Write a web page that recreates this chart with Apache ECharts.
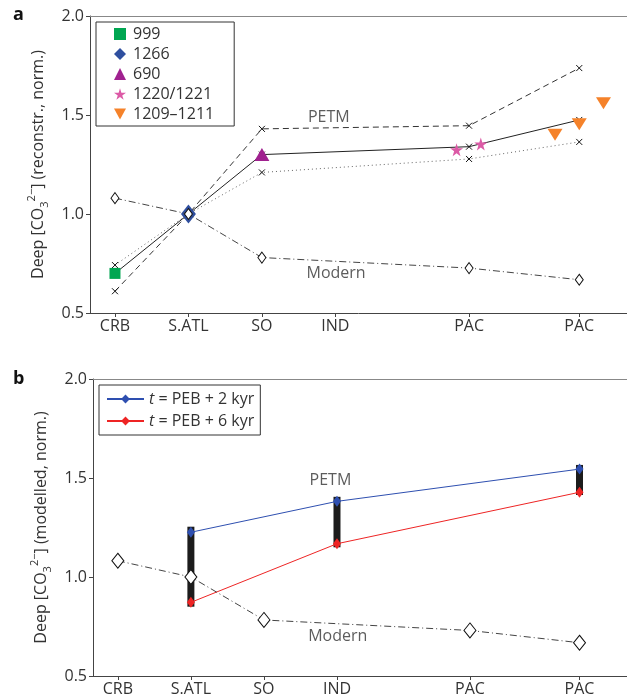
<!DOCTYPE html>
<html><head><meta charset="utf-8">
<script src="https://cdn.jsdelivr.net/npm/echarts@6/dist/echarts.min.js"></script>
<style>html,body{margin:0;padding:0;background:#fff}#c{width:627px;height:700px}</style>
</head><body><div id="c"></div>
<script>
// ---- shared axis data ----
const siteLabels = ['CRB', 'S.ATL', 'SO', 'IND', 'PAC', 'PAC'];
const sitePos = [0, 1, 2, 3, 4.82, 6.32];
const yTicks = [0.5, 1.0, 1.5, 2.0];

// ---- panel a (reconstructed) ----
const petmSolid  = [[0, 0.70], [1, 1.0], [2, 1.30], [4.82, 1.34], [6.32, 1.475]];
const petmDashed = [[0, 0.61], [1, 1.0], [2, 1.43], [4.82, 1.446], [6.32, 1.737]];
const petmDotted = [[0, 0.742], [1, 1.0], [2, 1.21], [4.82, 1.278], [6.32, 1.364]];
const modernA    = [[0, 1.08], [1, 1.0], [2, 0.78], [4.82, 0.727], [6.32, 0.668]];
const site999  = [[0, 0.70]];
const site1266 = [[1, 1.0]];
const site690  = [[2, 1.30]];
const site1220 = [[4.65, 1.325], [4.98, 1.354]];
const site1209 = [[5.99, 1.40], [6.32, 1.453], [6.65, 1.559]];

// ---- panel b (modelled) ----
const run2kyr = [[1, 1.226], [3, 1.382], [6.32, 1.545]];
const run6kyr = [[1, 0.872], [3, 1.168], [6.32, 1.428]];
const ensembleRange = [[1, 0.85, 1.254], [3, 1.15, 1.405], [6.32, 1.414, 1.566]];
const modernB = [[0, 1.082], [1, 1.0], [2, 0.783], [4.82, 0.73], [6.32, 0.668]];

// ---- annotations (data coords) ----
const annotations = [{ name: 'PETM', value: [2.91, 1.49] }, { name: 'Modern', value: [3.01, 0.70] }];

const FONT = 'Open Sans';
const TXT = '#333';
const CROSS = 'path://M0,0L10,10M10,0L0,10';
const STAR = 'path://M50,0L61,35L98,35L68,57L79,91L50,70L21,91L32,57L2,35L39,35Z';
const DOWN_TRI = 'path://M0,0L10,0L5,9Z';

function nearestLabel(v) {
  let best = 0;
  for (let i = 0; i < sitePos.length; i++) if (Math.abs(sitePos[i] - v) < Math.abs(sitePos[best] - v)) best = i;
  return siteLabels[best];
}

function xAxes(gi) {
  return [{
    type: 'value', gridIndex: gi, min: -0.34, max: 6.97,
    axisLine: { show: true, onZero: false, lineStyle: { color: '#444', width: 1 } },
    axisTick: { show: true, customValues: sitePos, length: 4, lineStyle: { color: '#444' } },
    axisLabel: { customValues: sitePos, formatter: nearestLabel, fontFamily: FONT, fontSize: 16, color: TXT, margin: 5 },
    splitLine: { show: false }
  }, {
    type: 'value', gridIndex: gi, position: 'top', min: -0.34, max: 6.97,
    axisLine: { show: true, onZero: false, lineStyle: { color: '#888', width: 1.2 } },
    axisTick: { show: false }, axisLabel: { show: false }, splitLine: { show: false }
  }];
}

function yAxis(gi, mid) {
  return {
    type: 'value', gridIndex: gi, min: 0.5, max: 2.0, interval: 0.5,
    axisLine: { show: true, onZero: false, lineStyle: { color: '#444', width: 1 } },
    axisTick: { show: true, length: 4, lineStyle: { color: '#444' } },
    axisLabel: { formatter: v => v.toFixed(1), fontFamily: FONT, fontSize: 16, color: TXT, margin: 6 },
    splitLine: { show: false },
    name: '{a|Deep [CO}{s|3}{p|2−}{a|] (' + mid + ', norm.)}',
    nameLocation: 'middle', nameRotate: 90, nameGap: 37,
    nameTextStyle: {
      rich: {
        a: { fontFamily: FONT, fontSize: 16, color: TXT, lineHeight: 24 },
        s: { fontFamily: FONT, fontSize: 11, color: TXT, lineHeight: 24, verticalAlign: 'bottom' },
        p: { fontFamily: FONT, fontSize: 11, color: TXT, lineHeight: 24, verticalAlign: 'top' }
      }
    }
  };
}

function annSeries(xi, yi) {
  return {
    type: 'scatter', xAxisIndex: xi, yAxisIndex: yi, data: annotations, symbolSize: 0, z: 20,
    label: { show: true, position: 'inside', formatter: p => p.name, fontFamily: FONT, fontSize: 16, color: TXT },
    silent: true
  };
}

const option = {
  animation: false,
  backgroundColor: '#fff',
  grid: [
    { left: 90, top: 16, height: 297, right: 0 },
    { left: 93, top: 379, height: 297, right: 0 }
  ],
  xAxis: [...xAxes(0), ...xAxes(1)],
  yAxis: [yAxis(0, 'reconstr.'), yAxis(1, 'modelled')],
  graphic: [
    { type: 'text', left: 13, top: 6, style: { text: 'a', font: 'bold 18px "Open Sans"', fill: '#111' } },
    { type: 'text', left: 13, top: 370, style: { text: 'b', font: 'bold 18px "Open Sans"', fill: '#111' } }
  ],
  legend: [{
    data: ['999', '1266', '690', '1220/1221', { name: '1209–1211', icon: DOWN_TRI }],
    orient: 'vertical', left: 96, top: 22,
    itemWidth: 12, itemHeight: 12, itemGap: 4,
    padding: [4, 20, 4, 18],
    borderColor: '#333', borderWidth: 1,
    itemStyle: { opacity: 1 },
    textStyle: { fontFamily: FONT, fontSize: 16, color: TXT, lineHeight: 16, padding: [0, 0, 0, 2] }
  }, {
    data: ['t = PEB + 2 kyr', 't = PEB + 6 kyr'],
    orient: 'vertical', left: 99, top: 385,
    itemWidth: 37, itemHeight: 11, itemGap: 6,
    padding: [6, 6, 6, 7],
    borderColor: '#333', borderWidth: 1,
    formatter: n => '{i|t}' + n.slice(1),
    textStyle: { fontFamily: FONT, fontSize: 16, color: TXT, lineHeight: 16,
      rich: { i: { fontFamily: FONT, fontSize: 16, fontStyle: 'italic', color: TXT } } }
  }],
  series: [
    // panel a lines
    { type: 'line', xAxisIndex: 0, yAxisIndex: 0, data: petmDashed, symbol: CROSS, symbolSize: 6,
      lineStyle: { color: '#333', width: 1, type: [6, 4] },
      itemStyle: { color: 'none', borderColor: '#111', borderWidth: 1 }, z: 2 },
    { type: 'line', xAxisIndex: 0, yAxisIndex: 0, data: petmDotted, symbol: CROSS, symbolSize: 6,
      lineStyle: { color: '#666', width: 1, type: [1, 3] },
      itemStyle: { color: 'none', borderColor: '#111', borderWidth: 1 }, z: 2 },
    { type: 'line', xAxisIndex: 0, yAxisIndex: 0, data: petmSolid, symbol: CROSS, symbolSize: 6,
      lineStyle: { color: '#222', width: 1 },
      itemStyle: { color: 'none', borderColor: '#111', borderWidth: 1 }, z: 2 },
    { type: 'line', xAxisIndex: 0, yAxisIndex: 0, data: modernA, symbol: 'diamond', symbolSize: [8, 11],
      lineStyle: { color: '#444', width: 1, type: [7, 3, 1, 3] },
      itemStyle: { color: '#fff', borderColor: '#111', borderWidth: 1 }, z: 6 },
    // panel a sites
    { name: '999', type: 'scatter', xAxisIndex: 0, yAxisIndex: 0, data: site999, symbol: 'rect', symbolSize: 11,
      itemStyle: { color: '#00a651', opacity: 1 }, z: 5 },
    { name: '1266', type: 'scatter', xAxisIndex: 0, yAxisIndex: 0, data: site1266, symbol: 'diamond', symbolSize: [15, 19],
      itemStyle: { color: '#2f4f9f', opacity: 1 }, z: 5 },
    { name: '690', type: 'scatter', xAxisIndex: 0, yAxisIndex: 0, data: site690, symbol: 'triangle', symbolSize: [15, 13],
      itemStyle: { color: '#a0218f', opacity: 1 }, z: 5 },
    { name: '1220/1221', type: 'scatter', xAxisIndex: 0, yAxisIndex: 0, data: site1220, symbol: STAR, symbolSize: 13,
      itemStyle: { color: '#dc5aa6', opacity: 1 }, z: 5 },
    { name: '1209–1211', type: 'scatter', xAxisIndex: 0, yAxisIndex: 0, data: site1209, symbol: DOWN_TRI,
      symbolSize: [15, 12], itemStyle: { color: '#f5822a', opacity: 1 }, z: 5 },
    annSeries(0, 0),
    // panel b
    { type: 'custom', xAxisIndex: 2, yAxisIndex: 1, data: ensembleRange, z: 1,
      renderItem: (params, api) => {
        const x = api.value(0);
        const lo = api.coord([x, api.value(1)]);
        const hi = api.coord([x, api.value(2)]);
        return { type: 'rect', shape: { x: lo[0] - 3.5, y: hi[1], width: 7, height: lo[1] - hi[1] }, style: { fill: '#1c1c1c' } };
      } },
    { type: 'line', xAxisIndex: 2, yAxisIndex: 1, data: modernB, symbol: 'diamond', symbolSize: [12, 15],
      lineStyle: { color: '#444', width: 1, type: [7, 3, 1, 3] },
      itemStyle: { color: '#fff', borderColor: '#111', borderWidth: 1 }, z: 6 },
    { name: 't = PEB + 2 kyr', type: 'line', xAxisIndex: 2, yAxisIndex: 1, data: run2kyr, symbol: 'diamond', symbolSize: [8, 11],
      lineStyle: { color: '#2e4fb0', width: 1 }, itemStyle: { color: '#2e4fb0' }, z: 4 },
    { name: 't = PEB + 6 kyr', type: 'line', xAxisIndex: 2, yAxisIndex: 1, data: run6kyr, symbol: 'diamond', symbolSize: [8, 11],
      lineStyle: { color: '#ee2424', width: 1 }, itemStyle: { color: '#ee2424' }, z: 4 },
    annSeries(2, 1)
  ]
};

const chart = echarts.init(document.getElementById('c'), null, { renderer: 'canvas' });
chart.setOption(option);
</script>
</body></html>
